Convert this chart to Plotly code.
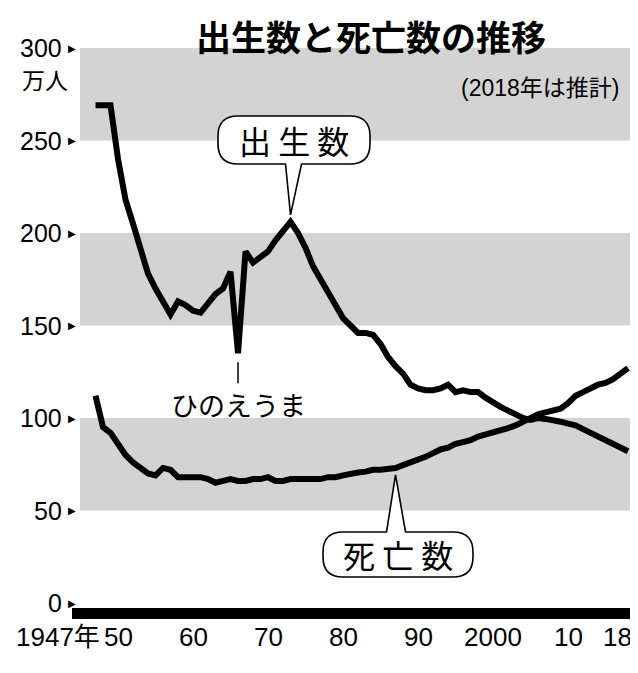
import plotly.graph_objects as go

# ---------------- data (unit: 万人) ----------------
years = list(range(1947, 2019))
births = [269, 269, 269, 240, 218, 205, 190, 178, 170, 163,
          156, 163, 161, 158, 157, 162, 167, 170, 179, 135,
          190, 184, 187, 190, 196, 201, 206, 200, 192, 182,
          175, 168, 161, 154, 150, 146, 146, 145, 140, 133,
          128, 124, 118, 116, 115, 115, 116, 118, 114, 115,
          114, 114, 111, 108, 106, 104, 102, 100, 99, 100,
          99.5, 99, 98, 97, 96, 94, 92, 90, 88, 86,
          84, 82]
deaths = [112, 95, 92, 86, 80, 76, 73, 70, 69, 73,
          72, 68, 68, 68, 68, 67, 65, 66, 67, 66,
          66, 67, 67, 68, 66, 66, 67, 67, 67, 67,
          67, 68, 68, 69, 70, 70.5, 71, 72, 72, 72.5,
          73, 74.5, 76, 77, 79, 81, 83, 84, 86, 87,
          88, 90, 91, 92, 93, 94.5, 96, 98, 100, 102,
          103, 104, 105, 108, 112, 114, 116, 118, 119, 121,
          124, 127]
y_ticks = [0, 50, 100, 150, 200, 250, 300]
y_tick_labels = ["0", "50", "100", "150", "200", "250", "300"]
x_ticks = [1947, 1950, 1960, 1970, 1980, 1990, 2000, 2010, 2018]
x_tick_labels = ["1947年", "50", "60", "70", "80", "90", "2000", "10", "18"]
title_text = "出生数と死亡数の推移"
note_text = "(2018年は推計)"
unit_text = "万人"
birth_label = "出 生 数"
death_label = "死 亡 数"
hinoeuma_label = "ひのえうま"
hinoeuma_year = 1966
birth_pointer_year = 1973
death_pointer_year = 1987

# ---------------- layout geometry ----------------
# page body has an 8px default margin; screen coords = figure coords + OFF
OFF = 8
SW, SH = 638, 673
W, H = SW - OFF, SH - OFF
SL, ST, SB = 80, 30, 620          # plot area edges in screen px
X0, X1 = 1944.93, 2019.33
Y0, Y1 = -9.19, 309.73
PW, PH = SW - SL, SB - ST

def px(x):
    return SL + (x - X0) / (X1 - X0) * PW

def py(y):
    return ST + (Y1 - y) / (Y1 - Y0) * PH

def xv(p):
    return X0 + (p - SL) / PW * (X1 - X0)

def yv(p):
    return Y1 - (p - ST) / PH * (Y1 - Y0)

def pxp(p):  # screen pixel x -> paper
    return (p - SL) / PW

def pyp(p):  # screen pixel y -> paper
    return 1 - (p - ST) / PH

CJK = "Noto Sans CJK JP, sans-serif"
NUM = "Liberation Sans, Arial, Noto Sans CJK JP, sans-serif"

fig = go.Figure()

shapes = []
# alternating shaded bands
for lo, hi in [(250, 300), (150, 200), (50, 100)]:
    shapes.append(dict(type="rect", xref="paper", yref="y", x0=0, x1=1, y0=lo, y1=hi,
                       fillcolor="#d3d3d3", line=dict(width=0), layer="below"))

# thick black axis bar
shapes.append(dict(type="rect", xref="paper", yref="y", x0=pxp(72), x1=1,
                   y0=yv(619), y1=yv(608), fillcolor="black", line=dict(width=0), layer="above"))

def pill_with_pointer(left, right, top, bottom, r, base_l, base_r, tip, up=False):
    tx, ty = tip
    d = f"M{xv(left + r)},{yv(top)} "
    if up:
        d += f"L{xv(base_l)},{yv(top)} L{xv(tx)},{yv(ty)} L{xv(base_r)},{yv(top)} "
    d += f"L{xv(right - r)},{yv(top)} Q{xv(right)},{yv(top)} {xv(right)},{yv(top + r)} "
    d += f"L{xv(right)},{yv(bottom - r)} Q{xv(right)},{yv(bottom)} {xv(right - r)},{yv(bottom)} "
    if not up:
        d += f"L{xv(base_r)},{yv(bottom)} L{xv(tx)},{yv(ty)} L{xv(base_l)},{yv(bottom)} "
    d += f"L{xv(left + r)},{yv(bottom)} Q{xv(left)},{yv(bottom)} {xv(left)},{yv(bottom - r)} "
    d += f"L{xv(left)},{yv(top + r)} Q{xv(left)},{yv(top)} {xv(left + r)},{yv(top)} Z"
    return dict(type="path", xref="x", yref="y", path=d, fillcolor="white",
                line=dict(color="black", width=1.6), layer="above")

# births callout -> second peak
i_b = years.index(birth_pointer_year)
b_px, b_py = px(years[i_b]), py(births[i_b])
shapes.append(pill_with_pointer(218, 370, 116, 164, 20, b_px - 5, b_px + 11,
                                (b_px, b_py - 7)))
# deaths callout -> line
i_d = years.index(death_pointer_year)
d_px, d_py = px(years[i_d]), py(deaths[i_d])
shapes.append(pill_with_pointer(323, 473, 532, 577, 20, d_px - 9, d_px + 10,
                                (d_px, d_py + 7), up=True))
# hinoeuma tick
i_h = years.index(hinoeuma_year)
shapes.append(dict(type="line", xref="x", yref="y", x0=years[i_h], x1=years[i_h],
                   y0=yv(py(births[i_h]) + 9), y1=yv(py(births[i_h]) + 30),
                   line=dict(color="black", width=1.5)))

fig.add_trace(go.Scatter(x=years, y=births, mode="lines",
                         line=dict(color="black", width=6), hoverinfo="skip"))
fig.add_trace(go.Scatter(x=years, y=deaths, mode="lines",
                         line=dict(color="black", width=6), hoverinfo="skip"))
# white dots on the axis bar
fig.add_trace(go.Scatter(x=x_ticks, y=[yv(613.5)] * len(x_ticks), mode="markers",
                         marker=dict(color="white", size=6, line=dict(width=0)),
                         cliponaxis=False, hoverinfo="skip"))

ann = []
# y tick labels with small arrows
for v, lab in zip(y_ticks, y_tick_labels):
    ann.append(dict(xref="paper", yref="y", x=0, y=v, xanchor="right", yanchor="middle",
                    xshift=-16, text=lab, showarrow=False,
                    font=dict(family=NUM, size=25, color="black")))
    ann.append(dict(xref="paper", yref="y", x=0, y=v, xanchor="left", yanchor="middle",
                    xshift=-14, text="▶", showarrow=False,
                    font=dict(family="DejaVu Sans", size=10, color="black")))
ann.append(dict(xref="paper", yref="paper", x=pxp(45), y=pyp(79), xanchor="center", yanchor="middle",
                text=unit_text, showarrow=False, font=dict(family=CJK, size=23, color="black")))
# x tick labels
for v, lab in zip(x_ticks, x_tick_labels):
    if lab.endswith("年"):
        ann.append(dict(xref="x", yref="paper", x=v, y=pyp(637), xanchor="right", yanchor="middle",
                        xshift=6, text=lab, showarrow=False,
                        font=dict(family=NUM, size=26, color="black")))
    elif v == x_ticks[-1]:
        ann.append(dict(xref="paper", yref="paper", x=pxp(634), y=pyp(637), xanchor="right",
                        yanchor="middle", text=lab, showarrow=False,
                        font=dict(family=NUM, size=26, color="black")))
    else:
        ann.append(dict(xref="x", yref="paper", x=v, y=pyp(637), xanchor="center", yanchor="middle",
                        text=lab, showarrow=False,
                        font=dict(family=NUM, size=26, color="black")))
# title & note
ann.append(dict(xref="paper", yref="paper", x=pxp(371), y=pyp(36), xanchor="center", yanchor="middle",
                text="<b>" + title_text + "</b>", showarrow=False,
                font=dict(family=CJK, size=35, color="black")))
ann.append(dict(xref="paper", yref="paper", x=pxp(459), y=pyp(88), xanchor="left", yanchor="middle",
                text=note_text, showarrow=False,
                font=dict(family=NUM, size=23, color="black")))
# callout texts
ann.append(dict(xref="paper", yref="paper", x=pxp(294), y=pyp(140), xanchor="center", yanchor="middle",
                text=birth_label, showarrow=False, font=dict(family=CJK, size=32, color="black")))
ann.append(dict(xref="paper", yref="paper", x=pxp(398), y=pyp(554), xanchor="center", yanchor="middle",
                text=death_label, showarrow=False, font=dict(family=CJK, size=32, color="black")))
ann.append(dict(xref="x", yref="paper", x=years[i_h], y=pyp(404), xanchor="center", yanchor="middle",
                text=hinoeuma_label, showarrow=False, font=dict(family=CJK, size=27, color="black")))

fig.update_layout(
    width=W, height=H,
    margin=dict(l=SL - OFF, r=0, t=ST - OFF, b=SH - SB, pad=0),
    paper_bgcolor="white", plot_bgcolor="white",
    showlegend=False,
    shapes=shapes, annotations=ann,
    xaxis=dict(range=[X0, X1], showgrid=False, zeroline=False, showticklabels=False,
               ticks="", showline=False, fixedrange=True),
    yaxis=dict(range=[Y0, Y1], showgrid=False, zeroline=False, showticklabels=False,
               ticks="", showline=False, fixedrange=True),
)

fig.write_html("out.html")
